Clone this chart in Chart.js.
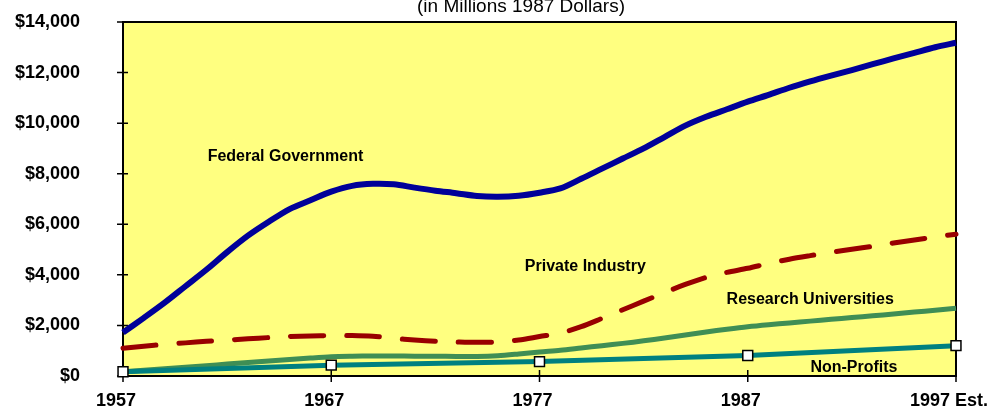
<!DOCTYPE html>
<html lang="en">
  <head>
    <meta charset="UTF-8" />
    <script src="https://cdn.jsdelivr.net/npm/chart.js@4.4.0/dist/chart.umd.min.js"></script>
    <title>R&D funding</title>
    <style>
      html, body { margin: 0; padding: 0; background: #fff; }
    </style>
  </head>
  <body>
    <canvas id="myChart" width="989" height="408"></canvas>

    <script>
      var years = [];
      for (var y = 1957; y <= 1997; y++) years.push(y);

      var federal = [1720, 2300, 2900, 3550, 4200, 4900, 5550, 6100, 6600, 6950,
        7290, 7520, 7600, 7580, 7450, 7330, 7230, 7120, 7090, 7130,
        7250, 7420, 7800, 8200, 8600, 9000, 9450, 9900, 10250, 10550,
        10850, 11120, 11400, 11650, 11880, 12100, 12330, 12560, 12780, 13000,
        13180];
      var privateInd = [1100, 1180, 1250, 1310, 1370, 1420, 1470, 1520, 1560, 1585,
        1600, 1600, 1570, 1490, 1420, 1370, 1345, 1330, 1350, 1420,
        1560, 1700, 1950, 2280, 2620, 2960, 3300, 3620, 3900, 4100,
        4260, 4450, 4620, 4760, 4890, 5010, 5130, 5260, 5380, 5500,
        5610];
      var universities = [170, 230, 290, 350, 410, 470, 530, 590, 650, 710,
        760, 780, 790, 790, 785, 780, 775, 770, 800, 870,
        950, 1020, 1110, 1200, 1290, 1390, 1500, 1620, 1740, 1850,
        1950, 2030, 2100, 2170, 2240, 2310, 2380, 2450, 2530, 2600,
        2680];
      var npYears = [1957, 1967, 1977, 1987, 1997];
      var nonProfits = [170, 430, 570, 810, 1200];

      var xTickLabels = { 1957: '1957', 1967: '1967', 1977: '1977', 1987: '1987', 1997: '1997 Est.' };

      // [text, year, value] - label anchors in data units
      var seriesLabels = [
        ['Federal Government', 1964.8, 8660],
        ['Private Industry', 1979.2, 4310],
        ['Research Universities', 1990, 3005],
        ['Non-Profits', 1992.1, 316]
      ];

      function pts(xs, ys) {
        return xs.map(function (x, i) { return { x: x, y: ys[i] }; });
      }

      var frame = {
        id: 'frame',
        beforeDraw: function (chart) {
          var a = chart.chartArea, ctx = chart.ctx;
          ctx.save();
          ctx.fillStyle = '#FFFF80';
          ctx.fillRect(a.left, a.top, a.right - a.left, a.bottom - a.top);
          ctx.restore();
        },
        beforeDatasetsDraw: function (chart) {
          var a = chart.chartArea, ctx = chart.ctx;
          var xs = chart.scales.x, ys = chart.scales.y;
          ctx.save();
          ctx.strokeStyle = '#000';
          ctx.lineWidth = 2;
          ctx.strokeRect(a.left, a.top, a.right - a.left, a.bottom - a.top);
          ctx.lineWidth = 1.5;
          ctx.beginPath();
          ys.ticks.forEach(function (t) {
            var py = ys.getPixelForValue(t.value);
            ctx.moveTo(a.left - 6, py);
            ctx.lineTo(a.left + 5, py);
          });
          xs.ticks.forEach(function (t) {
            var px = xs.getPixelForValue(t.value);
            ctx.moveTo(px, a.bottom - 6);
            ctx.lineTo(px, a.bottom + 6);
          });
          ctx.stroke();
          ctx.restore();
        },
        afterDraw: function (chart) {
          var ctx = chart.ctx;
          var xs = chart.scales.x, ys = chart.scales.y;
          ctx.save();
          ctx.fillStyle = '#000';
          ctx.textAlign = 'center';
          ctx.textBaseline = 'middle';
          ctx.font = 'bold 16px Arial, "Liberation Sans", sans-serif';
          seriesLabels.forEach(function (l) {
            ctx.fillText(l[0], xs.getPixelForValue(l[1]), ys.getPixelForValue(l[2]));
          });
          ctx.font = '19px Arial, "Liberation Sans", sans-serif';
          ctx.textBaseline = 'alphabetic';
          ctx.fillText('(in Millions 1987 Dollars)', 521, 12);
          ctx.restore();
        }
      };

      var ctx = document.getElementById('myChart').getContext('2d');
      var myChart = new Chart(ctx, {
        type: 'line',
        data: {
          datasets: [
            {
              label: 'Non-Profits',
              data: pts(npYears, nonProfits),
              borderColor: '#008080',
              borderWidth: 5,
              pointStyle: 'rect',
              pointRadius: 7,
              pointBackgroundColor: '#fff',
              pointBorderColor: '#000',
              pointBorderWidth: 1.5,
              tension: 0
            },
            {
              label: 'Research Universities',
              data: pts(years, universities),
              borderColor: '#3F8E55',
              borderWidth: 5,
              pointRadius: 0,
              tension: 0.3
            },
            {
              label: 'Private Industry',
              data: pts(years, privateInd),
              borderColor: '#990000',
              borderWidth: 5,
              borderDash: [33, 23],
              borderCapStyle: 'round',
              pointRadius: 0,
              tension: 0.3
            },
            {
              label: 'Federal Government',
              data: pts(years, federal),
              borderColor: '#000099',
              borderWidth: 6,
              pointRadius: 0,
              tension: 0.3
            }
          ]
        },
        options: {
          responsive: false,
          animation: false,
          clip: false,
          layout: { padding: { top: 22, right: 33, left: 0, bottom: 0 } },
          plugins: {
            legend: { display: false },
            tooltip: { enabled: false }
          },
          scales: {
            x: {
              type: 'linear',
              min: 1957,
              max: 1997,
              grid: { display: false, drawTicks: true, tickLength: 6 },
              border: { display: false },
              ticks: {
                stepSize: 10,
                padding: 8,
                labelOffset: -7,
                maxRotation: 0,
                color: '#000',
                font: { family: 'Arial, "Liberation Sans", sans-serif', size: 18, weight: 'bold' },
                callback: function (v) { return xTickLabels[v] || ''; }
              },
              afterFit: function (s) { s.height = 32; s.paddingLeft = 0; s.paddingRight = 0; }
            },
            y: {
              min: 0,
              max: 14000,
              grid: { display: false, drawTicks: true, tickLength: 6 },
              border: { display: false },
              ticks: {
                stepSize: 2000,
                padding: 37,
                color: '#000',
                font: { family: 'Arial, "Liberation Sans", sans-serif', size: 18, weight: 'bold' },
                callback: function (v) { return '$' + v.toLocaleString('en-US'); }
              },
              afterFit: function (s) { s.width = 123; s.paddingTop = 0; s.paddingBottom = 0; }
            }
          }
        },
        plugins: [frame]
      });
    </script>
  </body>
</html>
